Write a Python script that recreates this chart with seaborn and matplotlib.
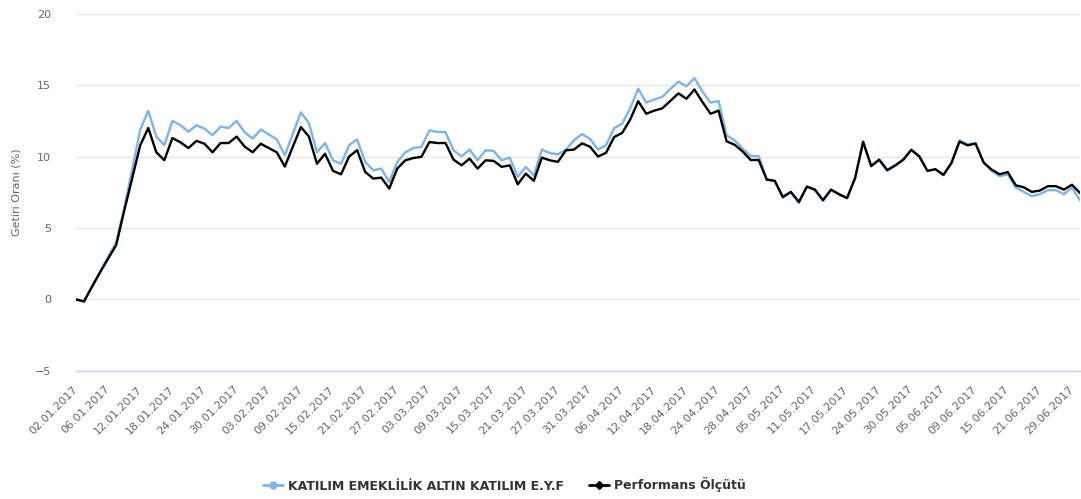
import matplotlib
matplotlib.use("Agg")
import matplotlib.pyplot as plt
from matplotlib.lines import Line2D
import pandas as pd
import seaborn as sns

# Getiri (%) - fon ve performans olcutu, is gunu bazinda
fon = [0.0, -0.1, 0.9, 1.95, 3.0, 4.0, 6.4, 9.1, 11.9, 13.2,
       11.4, 10.8, 12.5, 12.2, 11.75, 12.2, 11.95, 11.5, 12.1, 12.0,
       12.5, 11.7, 11.26, 11.9, 11.55, 11.2, 10.1, 11.6, 13.1, 12.35,
       10.3, 10.95, 9.74, 9.5, 10.8, 11.2, 9.63, 9.04, 9.16, 8.23,
       9.63, 10.3, 10.6, 10.68, 11.84, 11.72, 11.72, 10.44, 10.02, 10.49,
       9.74, 10.44, 10.4, 9.74, 9.93, 8.58, 9.28, 8.69, 10.49, 10.25,
       10.16, 10.49, 11.14, 11.58, 11.23, 10.5, 10.8, 12.0, 12.3, 13.4,
       14.75, 13.78, 14.0, 14.18, 14.74, 15.25, 14.92, 15.5, 14.55, 13.78,
       13.9, 11.49, 11.14, 10.56, 10.04, 10.04, 8.39, 8.3, 7.1, 7.5,
       6.75, 7.9, 7.65, 6.9, 7.65, 7.33, 7.08, 8.5, 11.1, 9.3,
       9.75, 9.0, 9.35, 9.75, 10.5, 10.05, 9.0, 9.1, 8.7, 9.55,
       11.14, 10.86, 10.95, 9.6, 9.0, 8.62, 8.76, 7.83, 7.53, 7.23,
       7.37, 7.65, 7.65, 7.37, 7.83, 6.94]

olcut = [0.0, -0.15, 0.9, 1.9, 2.85, 3.8, 6.2, 8.5, 10.8, 12.0,
         10.3, 9.75, 11.3, 11.0, 10.6, 11.1, 10.9, 10.3, 10.95, 10.95,
         11.4, 10.7, 10.3, 10.9, 10.6, 10.3, 9.3, 10.7, 12.07, 11.4,
         9.5, 10.2, 9.0, 8.76, 10.0, 10.45, 8.93, 8.46, 8.53, 7.76,
         9.16, 9.74, 9.9, 9.98, 11.02, 10.95, 10.95, 9.79, 9.39, 9.86,
         9.16, 9.74, 9.7, 9.28, 9.39, 8.06, 8.81, 8.3, 9.93, 9.74,
         9.63, 10.44, 10.49, 10.93, 10.69, 10.0, 10.27, 11.37, 11.66, 12.6,
         13.88, 13.0, 13.22, 13.38, 13.9, 14.43, 14.05, 14.7, 13.82, 13.0,
         13.22, 11.07, 10.83, 10.36, 9.76, 9.76, 8.39, 8.3, 7.18, 7.53,
         6.83, 7.9, 7.69, 6.95, 7.69, 7.37, 7.1, 8.5, 11.02, 9.35,
         9.79, 9.06, 9.39, 9.79, 10.47, 10.0, 9.0, 9.12, 8.72, 9.56,
         11.05, 10.79, 10.91, 9.58, 9.09, 8.76, 8.92, 7.99, 7.85, 7.53,
         7.62, 7.93, 7.93, 7.69, 8.03, 7.45]

# her 4 is gununde bir etiket
tarih_etiketleri = ["02.01.2017", "06.01.2017", "12.01.2017", "18.01.2017",
                    "24.01.2017", "30.01.2017", "03.02.2017", "09.02.2017",
                    "15.02.2017", "21.02.2017", "27.02.2017", "03.03.2017",
                    "09.03.2017", "15.03.2017", "21.03.2017", "27.03.2017",
                    "31.03.2017", "06.04.2017", "12.04.2017", "18.04.2017",
                    "24.04.2017", "28.04.2017", "05.05.2017", "11.05.2017",
                    "17.05.2017", "24.05.2017", "30.05.2017", "05.06.2017",
                    "09.06.2017", "15.06.2017", "21.06.2017", "29.06.2017"]

fon_adi = "KATILIM EMEKLİLİK ALTIN KATILIM E.Y.F"
olcut_adi = "Performans Ölçütü"
y_ticks = [-5, 0, 5, 10, 15, 20]

n = len(fon)
df = pd.DataFrame({
    "gun": list(range(n)) * 2,
    "getiri": fon + olcut,
    "seri": [fon_adi] * n + [olcut_adi] * n,
})

sns.set_theme(style="white")
plt.rcParams["font.family"] = ["DejaVu Sans"]

W, H = 1081, 499
fig = plt.figure(figsize=(W / 100, H / 100), dpi=100)
ax = fig.add_axes([76 / W, 1 - 370.8 / H, (1080 - 76) / W, (370.8 - 13.8) / H])

renkler = {fon_adi: "#7cb5ec", olcut_adi: "#000000"}
sns.lineplot(data=df, x="gun", y="getiri", hue="seri", palette=renkler,
             linewidth=1.7, ax=ax, legend=False)

ax.set_xlim(0, n - 1)
ax.set_ylim(-5, 20)
ax.set_yticks(y_ticks)
ax.set_yticklabels([f"{v}".replace("-", "\u2212") for v in y_ticks])
ax.yaxis.grid(True, color="#e6e6e6", linewidth=1)
ax.xaxis.grid(False)
for s in ["top", "right", "left"]:
    ax.spines[s].set_visible(False)
ax.spines["bottom"].set_color("#ccd6eb")
ax.spines["bottom"].set_linewidth(1)

ax.set_xticks(list(range(0, n, 4))[:len(tarih_etiketleri)])
ax.set_xticklabels(tarih_etiketleri, rotation=45, ha="right",
                   va="center", rotation_mode="anchor")
ax.tick_params(axis="x", length=7, width=1, color="#ccd6eb",
               labelcolor="#666666", labelsize=8, pad=5, direction="out")
ax.tick_params(axis="y", length=0, labelcolor="#666666", labelsize=8, pad=18)
ax.set_xlabel("")
ax.set_ylabel("")

fig.text(17 / W, 1 - 192 / H, "Getiri Oranı (%)", rotation=90,
         ha="center", va="center", color="#666666", fontsize=8)

handles = [
    Line2D([0], [0], color="#7cb5ec", lw=2, marker="o", markersize=5),
    Line2D([0], [0], color="#000000", lw=2, marker="D", markersize=4.5),
]
fig.legend(handles, [fon_adi, olcut_adi], loc="center",
           bbox_to_anchor=(504 / W, 1 - 485 / H), ncol=2, frameon=False,
           prop={"weight": "bold", "size": 9}, labelcolor="#333333",
           columnspacing=2.0, handlelength=1.6, handletextpad=0.4)

fig.savefig("out.png", dpi=100)
